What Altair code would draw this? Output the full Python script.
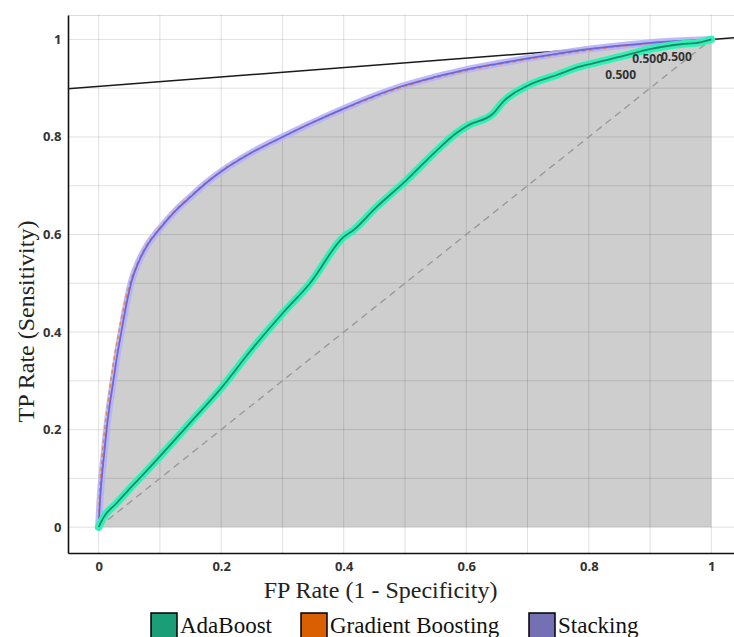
import altair as alt
import pandas as pd

# ---------------- data ----------------
models = ["AdaBoost", "Gradient Boosting", "Stacking"]
legend_colors = ["#1b9e77", "#d95f02", "#7570b3"]

stack_x = [0, 0.002, 0.005, 0.009, 0.013, 0.018, 0.024, 0.030, 0.037, 0.045, 0.054, 0.065, 0.078,
           0.100, 0.125, 0.150, 0.175, 0.200, 0.250, 0.300, 0.350, 0.400, 0.450, 0.500, 0.550,
           0.600, 0.650, 0.700, 0.750, 0.800, 0.850, 0.900, 0.950, 1.0]
stack_y = [0, 0.05, 0.10, 0.15, 0.20, 0.25, 0.30, 0.35, 0.40, 0.455, 0.505, 0.543, 0.575,
           0.612, 0.648, 0.677, 0.705, 0.729, 0.768, 0.800, 0.830, 0.858, 0.884, 0.906, 0.923,
           0.938, 0.950, 0.961, 0.971, 0.980, 0.987, 0.993, 0.997, 1.0]

gb_x = [0, 0.001, 0.003, 0.006, 0.010, 0.015, 0.020, 0.026, 0.033, 0.041, 0.051, 0.063, 0.077,
        0.100, 0.150, 0.200, 0.300, 0.400, 0.500, 0.600, 0.700, 0.800, 0.900, 1.0]
gb_y = [0, 0.05, 0.10, 0.15, 0.20, 0.25, 0.30, 0.35, 0.40, 0.45, 0.50, 0.54, 0.575,
        0.614, 0.679, 0.730, 0.800, 0.857, 0.904, 0.936, 0.959, 0.978, 0.992, 1.0]

ada_x = [0, 0.008, 0.03, 0.05, 0.075, 0.10, 0.15, 0.20, 0.247, 0.30, 0.345, 0.40, 0.416, 0.45,
         0.503, 0.55, 0.584, 0.602, 0.644, 0.66, 0.70, 0.75, 0.785, 0.80, 0.85, 0.90, 0.95,
         0.982, 1.0]
ada_y = [0, 0.020, 0.050, 0.078, 0.111, 0.145, 0.215, 0.285, 0.36, 0.438, 0.50, 0.595, 0.609,
         0.652, 0.712, 0.77, 0.808, 0.823, 0.848, 0.872, 0.905, 0.928, 0.944, 0.949, 0.964,
         0.980, 0.990, 0.994, 1.0]

iso_x = [-0.05, 1.037]
iso_y = [0.899, 1.0036]

diag_x = [0, 1]
diag_y = [0, 1]

grid_vals = [0, 0.1, 0.2, 0.3, 0.4, 0.5, 0.6, 0.7, 0.8, 0.9, 1.0]
tick_vals = [0, 0.2, 0.4, 0.6, 0.8, 1.0]

thr_x = [0.852, 0.896, 0.943]
thr_y = [0.927, 0.960, 0.964]
thr_text = ["0.500", "0.500", "0.500"]

# ---------------- chart ----------------
XD = [-0.05, 1.037]
YD = [-0.053, 1.05]

xs = alt.Scale(domain=XD, nice=False, zero=False)
ys = alt.Scale(domain=YD, nice=False, zero=False)

stack_df = pd.DataFrame({"x": stack_x, "y": stack_y})
gb_df = pd.DataFrame({"x": gb_x, "y": gb_y})
ada_df = pd.DataFrame({"x": ada_x, "y": ada_y})
iso_df = pd.DataFrame({"x": iso_x, "y": iso_y})
diag_df = pd.DataFrame({"x": diag_x, "y": diag_y})
grid_df = pd.DataFrame({"v": grid_vals})
thr_df = pd.DataFrame({"x": thr_x, "y": thr_y, "t": thr_text})
leg_df = pd.DataFrame({"model": models})

tick_font = "Open Sans"
serif = "Liberation Serif, Times New Roman, DejaVu Serif, serif"

X = alt.X("x:Q", scale=xs,
          axis=alt.Axis(values=tick_vals, format="~g", grid=False, ticks=False,
                        domainColor="#111111", domainWidth=1.6,
                        labelFont=tick_font, labelFontWeight="bold", labelFontSize=13,
                        labelColor="#333333", labelPadding=7,
                        title="FP Rate (1 - Specificity)", titleFont=serif,
                        titleFontWeight="normal", titleFontSize=24, titleColor="#222222",
                        titleX=312, titleY=25, titleBaseline="top"))
Y = alt.Y("y:Q", scale=ys,
          axis=alt.Axis(values=tick_vals, format="~g", grid=False, ticks=False,
                        domainColor="#111111", domainWidth=1.6,
                        labelFont=tick_font, labelFontWeight="bold", labelFontSize=13,
                        labelColor="#333333", labelPadding=7,
                        title="TP Rate (Sensitivity)", titleFont=serif,
                        titleFontWeight="normal", titleFontSize=24, titleColor="#222222",
                        titleX=-30, titleY=306, titleBaseline="bottom"))

fill = alt.Chart(stack_df).mark_area(color="#cecece", opacity=1, interpolate="monotone").encode(
    x=X, y=Y)

vgrid = alt.Chart(grid_df).mark_rule(color="#000000", opacity=0.12, strokeWidth=1).encode(
    x=alt.X("v:Q", scale=xs))
hgrid = alt.Chart(grid_df).mark_rule(color="#000000", opacity=0.12, strokeWidth=1).encode(
    y=alt.Y("v:Q", scale=ys))

diag = alt.Chart(diag_df).mark_line(color="#9a9a9a", strokeDash=[7, 5], strokeWidth=1.4).encode(
    x=alt.X("x:Q", scale=xs), y=alt.Y("y:Q", scale=ys))

iso = alt.Chart(iso_df).mark_line(color="#1a1a1a", strokeWidth=1.5).encode(
    x=alt.X("x:Q", scale=xs), y=alt.Y("y:Q", scale=ys))

stack_band = alt.Chart(stack_df).mark_line(color="#b7b2f5", strokeWidth=7, opacity=0.9,
                                           strokeCap="round", interpolate="monotone").encode(
    x=alt.X("x:Q", scale=xs), y=alt.Y("y:Q", scale=ys), order="x:Q")
gb_line = alt.Chart(gb_df).mark_line(color="#e8884a", strokeWidth=1.6, strokeDash=[4, 3],
                                     interpolate="monotone").encode(
    x=alt.X("x:Q", scale=xs), y=alt.Y("y:Q", scale=ys), order="x:Q")
stack_line = alt.Chart(stack_df).mark_line(color="#6d66d9", strokeWidth=1.8,
                                           interpolate="monotone").encode(
    x=alt.X("x:Q", scale=xs), y=alt.Y("y:Q", scale=ys), order="x:Q")

ada_band = alt.Chart(ada_df).mark_line(color="#2ef2b6", strokeWidth=7.5, strokeCap="round",
                                       interpolate="monotone").encode(
    x=alt.X("x:Q", scale=xs), y=alt.Y("y:Q", scale=ys), order="x:Q")
ada_line = alt.Chart(ada_df).mark_line(color="#23886a", strokeWidth=1.8,
                                       interpolate="monotone").encode(
    x=alt.X("x:Q", scale=xs), y=alt.Y("y:Q", scale=ys), order="x:Q")

labels = alt.Chart(thr_df).mark_text(font=tick_font, fontWeight="bold", fontSize=12,
                                     color="#333333").encode(
    x=alt.X("x:Q", scale=xs), y=alt.Y("y:Q", scale=ys), text="t:N")

legend_layer = alt.Chart(leg_df).mark_square(filled=True, stroke="black", strokeWidth=1.5).encode(
    x=alt.X("x:Q", scale=xs), y=alt.Y("y:Q", scale=ys),
    fill=alt.Fill("model:N", scale=alt.Scale(domain=models, range=legend_colors),
                  legend=alt.Legend(title=None, orient="none", direction="horizontal",
                                    legendX=82, legendY=597, symbolType="square",
                                    symbolSize=676, symbolStrokeColor="black",
                                    symbolStrokeWidth=1.5, symbolOpacity=1,
                                    labelFont=serif, labelFontSize=23, labelColor="#111111",
                                    labelLimit=400, labelOffset=2, columnPadding=26,
                                    padding=0))
).transform_calculate(x="2", y="2").transform_filter("false")

chart = alt.layer(
    fill, vgrid, hgrid, diag, iso, stack_band, gb_line, stack_line, ada_band, ada_line,
    labels, legend_layer
).properties(
    width=666, height=538,
    autosize=alt.AutoSizeParams(type="none"),
    padding={"left": 68, "top": 15, "right": 0, "bottom": 84},
).configure_view(stroke=None).configure(background="white")

chart.save("out.html", embed_options={"renderer": "svg", "actions": False})
